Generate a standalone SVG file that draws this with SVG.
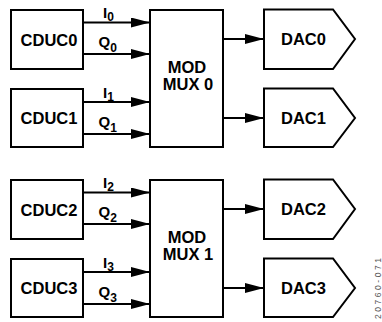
<svg xmlns="http://www.w3.org/2000/svg" width="382" height="322" viewBox="0 0 382 322">
<style>
.box{fill:#fff;stroke:#000;stroke-width:2}
.ln{fill:none;stroke:#000;stroke-width:2}
.t{font-family:"Liberation Sans",Arial,sans-serif;font-weight:bold;font-size:16.5px;fill:#000;text-anchor:middle}
.l{font-family:"Liberation Sans",Arial,sans-serif;font-weight:bold;font-size:15px;fill:#000}
.s{font-size:12px}
.id{font-family:"Liberation Sans",Arial,sans-serif;font-size:8.5px;fill:#555}
</style>
<defs>
<marker id="ah" markerUnits="userSpaceOnUse" markerWidth="20" markerHeight="12" refX="19" refY="5" orient="auto">
<path d="M0,0 L19,5 L0,10 z" fill="#000"/>
</marker>
</defs>
<g id="connectors">
<line class="ln" x1="83" y1="22.5" x2="150" y2="22.5" marker-end="url(#ah)"/>
<line class="ln" x1="83" y1="54" x2="150" y2="54" marker-end="url(#ah)"/>
<line class="ln" x1="83" y1="102" x2="150" y2="102" marker-end="url(#ah)"/>
<line class="ln" x1="83" y1="134" x2="150" y2="134" marker-end="url(#ah)"/>
<line class="ln" x1="223" y1="39" x2="264" y2="39" marker-end="url(#ah)"/>
<line class="ln" x1="223" y1="118" x2="264" y2="118" marker-end="url(#ah)"/>
<line class="ln" x1="83" y1="192.5" x2="150" y2="192.5" marker-end="url(#ah)"/>
<line class="ln" x1="83" y1="224" x2="150" y2="224" marker-end="url(#ah)"/>
<line class="ln" x1="83" y1="272" x2="150" y2="272" marker-end="url(#ah)"/>
<line class="ln" x1="83" y1="304" x2="150" y2="304" marker-end="url(#ah)"/>
<line class="ln" x1="223" y1="209" x2="264" y2="209" marker-end="url(#ah)"/>
<line class="ln" x1="223" y1="288" x2="264" y2="288" marker-end="url(#ah)"/>
<text class="l" x="103" y="18.3">I<tspan class="s" dy="2.5">0</tspan></text>
<text class="l" x="98.5" y="47">Q<tspan class="s" dy="4.7">0</tspan></text>
<text class="l" x="103" y="98">I<tspan class="s" dy="2.5">1</tspan></text>
<text class="l" x="98.5" y="127">Q<tspan class="s" dy="4.7">1</tspan></text>
<text class="l" x="103" y="188.3">I<tspan class="s" dy="2.5">2</tspan></text>
<text class="l" x="98.5" y="217">Q<tspan class="s" dy="4.7">2</tspan></text>
<text class="l" x="103" y="268">I<tspan class="s" dy="2.5">3</tspan></text>
<text class="l" x="98.5" y="297">Q<tspan class="s" dy="4.7">3</tspan></text>
</g>
<g id="cduc0"><rect class="box" x="11" y="10" width="72" height="59"/><text class="t" x="49" y="45.5">CDUC0</text></g>
<g id="cduc1"><rect class="box" x="11" y="89" width="72" height="58"/><text class="t" x="49" y="124">CDUC1</text></g>
<g id="mux0"><rect class="box" x="150" y="10" width="73" height="137"/><text class="t" x="187" y="73">MOD</text><text class="t" x="188" y="90">MUX 0</text></g>
<g id="dac0"><polygon class="box" points="264,9.5 333,9.5 355,39 333,69 264,69"/><text class="t" x="303.5" y="45">DAC0</text></g>
<g id="dac1"><polygon class="box" points="264,88.5 333,88.5 355,118 333,147 264,147"/><text class="t" x="303.5" y="124">DAC1</text></g>
<g id="cduc2"><rect class="box" x="11" y="180" width="72" height="59"/><text class="t" x="49" y="215.5">CDUC2</text></g>
<g id="cduc3"><rect class="box" x="11" y="259" width="72" height="58"/><text class="t" x="49" y="294">CDUC3</text></g>
<g id="mux1"><rect class="box" x="150" y="180" width="73" height="137"/><text class="t" x="187" y="243">MOD</text><text class="t" x="188" y="260">MUX 1</text></g>
<g id="dac2"><polygon class="box" points="264,179.5 333,179.5 355,209 333,239 264,239"/><text class="t" x="303.5" y="215">DAC2</text></g>
<g id="dac3"><polygon class="box" points="264,258.5 333,258.5 355,288 333,317 264,317"/><text class="t" x="303.5" y="294">DAC3</text></g>
<text class="id" transform="translate(380.5,258) rotate(-90)" text-anchor="end" textLength="61" lengthAdjust="spacing">20760-071</text>
</svg>
